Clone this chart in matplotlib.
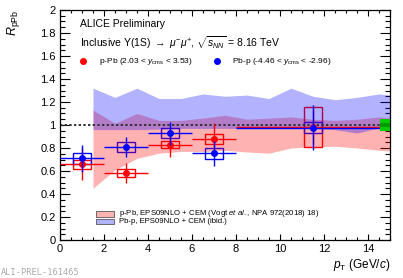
import matplotlib
matplotlib.use("Agg")
import matplotlib.pyplot as plt
import numpy as np
from matplotlib.patches import Rectangle
from matplotlib.ticker import MultipleLocator, FormatStrFormatter

plt.rcParams["font.family"] = ["Liberation Sans", "DejaVu Sans"]
plt.rcParams["mathtext.fontset"] = "custom"
plt.rcParams["mathtext.rm"] = "Liberation Sans"
plt.rcParams["mathtext.it"] = "Liberation Sans:italic"
plt.rcParams["mathtext.bf"] = "Liberation Sans:bold"

# ---- data ----
pt_center = [1.0, 3.0, 5.0, 7.0, 11.5]
pt_low = [0.0, 2.0, 4.0, 6.0, 8.0]
pt_high = [2.0, 4.0, 6.0, 8.0, 15.0]

ppb_r = [0.66, 0.585, 0.83, 0.88, 0.985]
ppb_stat = [0.14, 0.085, 0.11, 0.135, 0.15]
ppb_syst = [0.04, 0.033, 0.03, 0.045, 0.175]

pbp_r = [0.71, 0.81, 0.93, 0.755, 0.977]
pbp_stat = [0.115, 0.09, 0.10, 0.11, 0.195]
pbp_syst = [0.05, 0.045, 0.047, 0.047, 0.05]

# EPS09NLO + CEM model bands
model_pt = [1.5, 2.5, 3.5, 4.5, 5.5, 6.5, 7.5, 8.5, 9.5, 10.5, 11.5, 12.5, 13.5, 14.5, 15.0]
ppb_model_lo = [0.45, 0.61, 0.71, 0.755, 0.77, 0.77, 0.78, 0.765, 0.755, 0.80, 0.81, 0.815, 0.80, 0.78, 0.775]
ppb_model_hi = [1.13, 1.015, 1.10, 1.04, 1.04, 1.06, 1.085, 1.05, 1.06, 1.07, 1.05, 1.04, 1.05, 1.07, 1.06]
pbp_model_lo = [0.96, 0.96, 0.96, 0.965, 0.97, 0.97, 0.97, 0.97, 0.975, 0.985, 0.97, 0.96, 0.93, 0.975, 0.97]
pbp_model_hi = [1.32, 1.24, 1.32, 1.23, 1.23, 1.27, 1.25, 1.26, 1.23, 1.32, 1.25, 1.22, 1.24, 1.27, 1.26]

# global (correlated) uncertainties drawn at R = 1
global_outer = 0.05
global_inner = 0.015

RED = "#ff0000"
BLUE = "#0000ff"
BOX_HW = 0.42

fig = plt.figure(figsize=(4.03, 2.78), dpi=100)
ax = fig.add_axes([60 / 403, 38 / 278, 330 / 403, 230 / 278])

# systematic boxes (under model bands)
for pc, r, s in zip(pt_center, ppb_r, ppb_syst):
    ax.add_patch(Rectangle((pc - BOX_HW, r - s), 2 * BOX_HW, 2 * s, fill=False,
                           edgecolor=RED, linewidth=1.0, zorder=1))
for pc, r, s in zip(pt_center, pbp_r, pbp_syst):
    ax.add_patch(Rectangle((pc - BOX_HW, r - s), 2 * BOX_HW, 2 * s, fill=False,
                           edgecolor=BLUE, linewidth=1.0, zorder=1))

ax.fill_between(model_pt, ppb_model_lo, ppb_model_hi, color=RED, alpha=0.3,
                linewidth=0, zorder=2)
ax.fill_between(model_pt, pbp_model_lo, pbp_model_hi, color=BLUE, alpha=0.3,
                linewidth=0, zorder=2)

ax.axhline(1.0, color="#333333", linewidth=1.4, linestyle=(0, (1.2, 1.2)), zorder=2.5)

xerr = [np.subtract(pt_center, pt_low), np.subtract(pt_high, pt_center)]
ax.errorbar(pt_center, ppb_r, yerr=ppb_stat, xerr=xerr, fmt="o", color=RED,
            markersize=4, elinewidth=1.0, capsize=0, zorder=3)
ax.errorbar(pt_center, pbp_r, yerr=pbp_stat, xerr=xerr, fmt="o", color=BLUE,
            markersize=4, elinewidth=1.0, capsize=0, zorder=3.1)

ax.add_patch(Rectangle((14.55, 1 - global_outer), 0.45, 2 * global_outer,
                       facecolor="#00cc00", edgecolor="none", zorder=4))
ax.add_patch(Rectangle((14.55, 1 - global_inner), 0.45, 2 * global_inner,
                       facecolor="#009900", edgecolor="none", zorder=4))

ax.set_xlim(0, 15)
ax.set_ylim(0, 2)
ax.xaxis.set_major_locator(MultipleLocator(2))
ax.xaxis.set_minor_locator(MultipleLocator(0.5))
ax.yaxis.set_major_locator(MultipleLocator(0.2))
ax.yaxis.set_minor_locator(MultipleLocator(0.05))
ax.yaxis.set_major_formatter(FormatStrFormatter("%g"))
ax.tick_params(axis="both", which="both", direction="in", top=True, right=True,
               labelsize=8, width=0.8, pad=3)
ax.tick_params(axis="y", which="major", length=7)
ax.tick_params(axis="y", which="minor", length=3.5)
ax.tick_params(axis="x", which="major", length=4.5)
ax.tick_params(axis="x", which="minor", length=2.3)
for sp in ax.spines.values():
    sp.set_linewidth(0.9)

ax.set_ylabel(r"$R_{\rm pPb}$", fontsize=9, loc="top")
ax.yaxis.set_label_coords(-0.115, 1.0)
ax.set_xlabel(r"$p_{\rm T}$ (GeV/$c$)", fontsize=8.5, loc="right")
ax.xaxis.set_label_coords(1.0, -0.075)

ax.text(0.0606, 0.939, "ALICE Preliminary", transform=ax.transAxes, fontsize=7.5,
        va="center", ha="left")
ax.text(0.0606, 0.857,
        r"Inclusive $\Upsilon$(1S) $\rightarrow$ $\mu^{-}\mu^{+}$, $\sqrt{s_{\it NN}}$ = 8.16 TeV",
        transform=ax.transAxes, fontsize=7.5, va="center", ha="left")

ax.plot([0.0697], [0.778], "o", color=RED, markersize=4, transform=ax.transAxes, clip_on=False)
ax.text(0.118, 0.778, r"p-Pb (2.03 < $y_{\rm cms}$ < 3.53)", transform=ax.transAxes,
        fontsize=6.0, va="center", ha="left")
ax.plot([0.475], [0.778], "o", color=BLUE, markersize=4, transform=ax.transAxes, clip_on=False)
ax.text(0.52, 0.778, r"Pb-p (-4.46 < $y_{\rm cms}$ < -2.96)", transform=ax.transAxes,
        fontsize=6.0, va="center", ha="left")

ax.add_patch(Rectangle((0.109, 0.102), 0.056, 0.025, transform=ax.transAxes,
                       facecolor=(1, 0, 0, 0.3), edgecolor="#555555", linewidth=0.6))
ax.text(0.18, 0.115, r"p-Pb, EPS09NLO + CEM (Vogt $et\ al.$, NPA 972(2018) 18)",
        transform=ax.transAxes, fontsize=5.6, va="center", ha="left")
ax.add_patch(Rectangle((0.109, 0.068), 0.056, 0.025, transform=ax.transAxes,
                       facecolor=(0, 0, 1, 0.3), edgecolor="#555555", linewidth=0.6))
ax.text(0.18, 0.079, "Pb-p, EPS09NLO + CEM (ibid.)",
        transform=ax.transAxes, fontsize=5.6, va="center", ha="left")

fig.text(0.002, 0.019, "ALI-PREL-161465", family="DejaVu Sans Mono", fontsize=6.2,
         color="#aaaaaa", va="center", ha="left")

fig.savefig("out.png", dpi=100)
